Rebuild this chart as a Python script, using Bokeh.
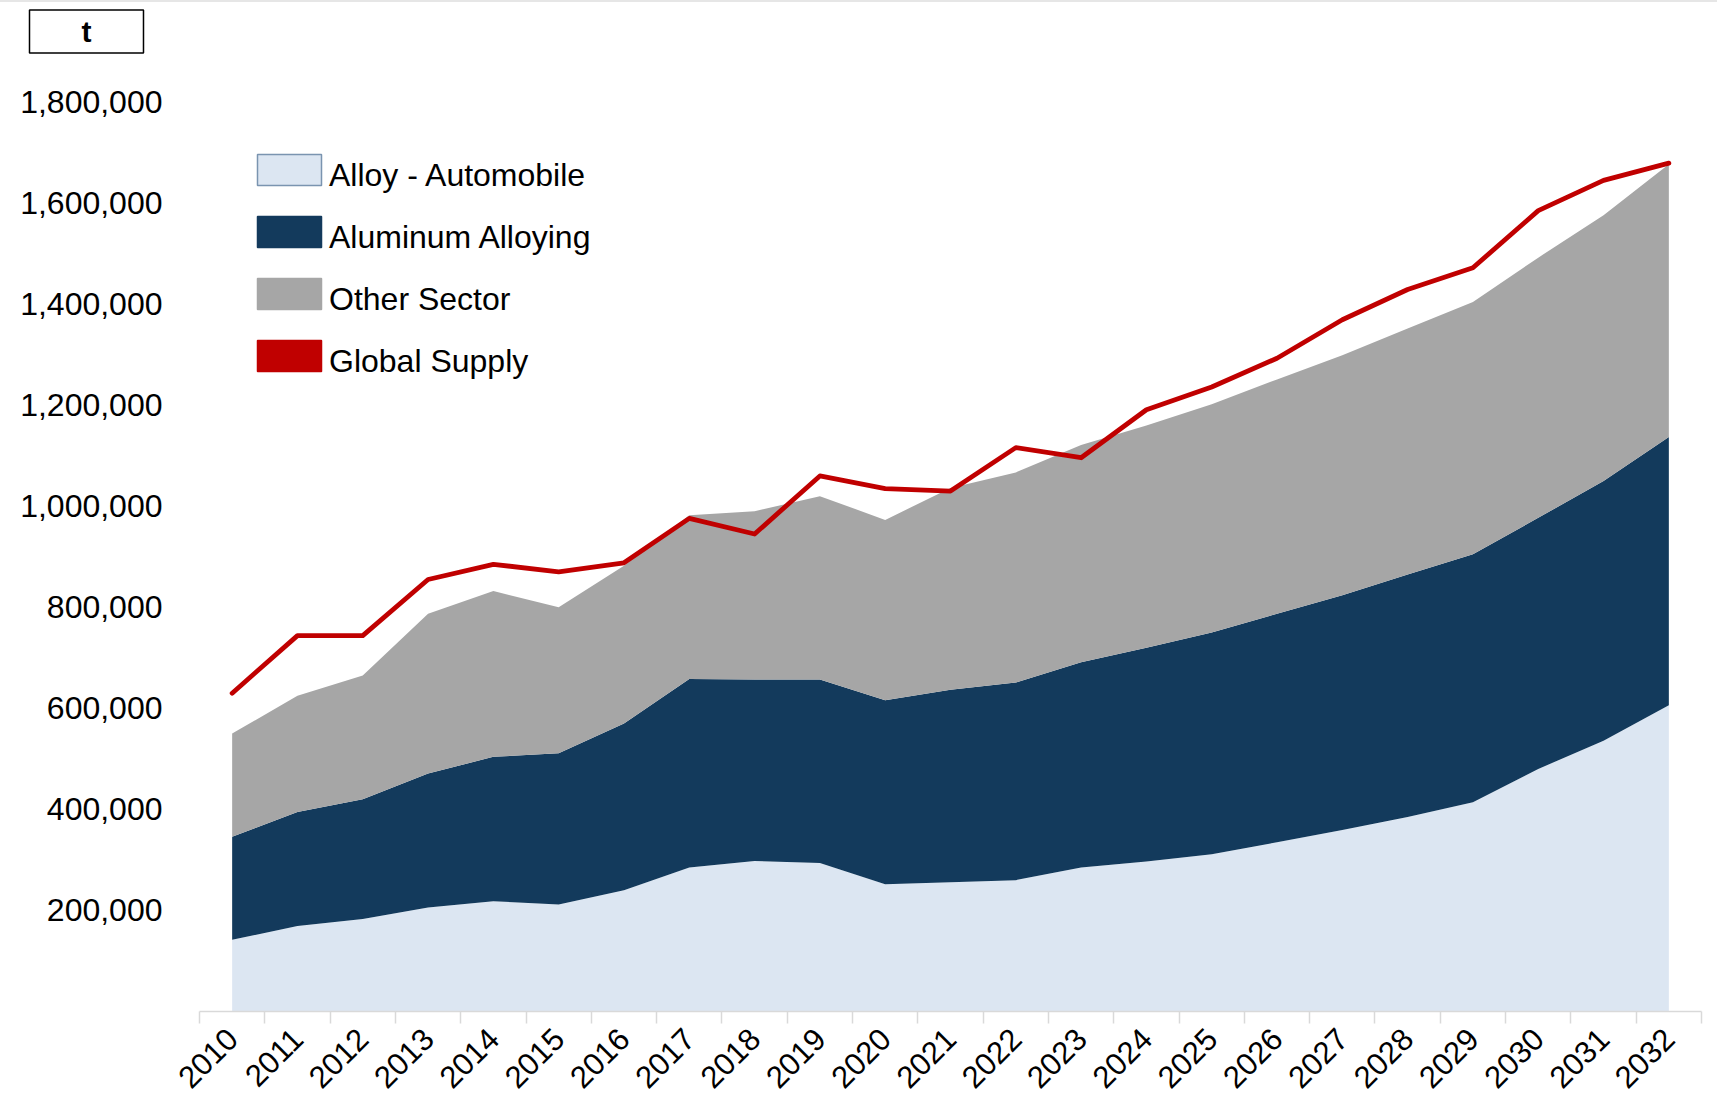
import math
from bokeh.plotting import figure
from bokeh.models import (ColumnDataSource, FixedTicker, NumeralTickFormatter,
                          Legend, LegendItem, Range1d)
from bokeh.embed import file_html
from bokeh.resources import INLINE

# ---------------- data (tonnes) ----------------
years = list(range(2010, 2033))
alloy_automobile = [142000, 169000, 183000, 206000, 218000, 212000, 240000, 285000,
                    298000, 294000, 252000, 256000, 260000, 285000, 297000, 311000,
                    335000, 359000, 385000, 414000, 480000, 536000, 606000]
aluminum_alloying = [204000, 226000, 237000, 265000, 286000, 299000, 330000, 373000,
                     359000, 363000, 364000, 381000, 391000, 406000, 423000, 439000,
                     452000, 465000, 480000, 491000, 497000, 514000, 531000]
other_sector = [204000, 230000, 245000, 316000, 328000, 289000, 312000, 324000,
                333000, 363000, 357000, 399000, 416000, 430000, 440000, 452000,
                464000, 475000, 487000, 499000, 515000, 526000, 540000]
global_supply = [630000, 744000, 744000, 855000, 885000, 870000, 888000, 976000,
                 945000, 1060000, 1035000, 1030000, 1116000, 1096000, 1191000, 1236000,
                 1293000, 1369000, 1429000, 1472000, 1585000, 1645000, 1679000]
y_ticks = [200000, 400000, 600000, 800000, 1000000, 1200000, 1400000, 1600000, 1800000]
series_names = ["Alloy - Automobile", "Aluminum Alloying", "Other Sector", "Global Supply"]
unit_label = "t"

FONT = "Liberation Sans"
C_ALLOY = "#dce6f2"
C_ALU = "#133a5c"
C_OTHER = "#a6a6a6"
C_RED = "#c00000"
C_AXIS = "#d9d9d9"

src = ColumnDataSource(dict(year=years, alloy=alloy_automobile,
                            aluminum=aluminum_alloying, other=other_sector,
                            supply=global_supply))

p = figure(frame_width=1502, frame_height=960,
           min_border_left=199, min_border_top=49, min_border_right=16, min_border_bottom=84,
           x_range=Range1d(2009.5, 2032.5), y_range=Range1d(0, 1900000),
           output_backend="svg", toolbar_location=None)
p.styles = {"border-top": "2px solid #e6e6e6"}
p.outline_line_color = None
p.grid.visible = False
p.background_fill_color = "white"
p.border_fill_color = "white"

p.varea_stack(["alloy", "aluminum", "other"], x="year",
              fill_color=[C_ALLOY, C_ALU, C_OTHER], source=src)
p.line("year", "supply", source=src, line_color=C_RED, line_width=4.8,
       line_cap="round", line_join="round")

# legend swatches: hidden degenerate quads built from the data columns
def swatch(fill, line, alpha=1.0):
    r = p.quad(left="year", right="year", top="alloy", bottom="alloy", source=src,
               fill_color=fill, line_color=line, line_width=1.5,
               fill_alpha=alpha, line_alpha=alpha)
    r.visible = False
    return r

sw = [swatch(C_ALLOY, "#7a94b0"), swatch(C_ALU, C_ALU),
      swatch(C_OTHER, C_OTHER), swatch(C_RED, C_RED)]
blank = swatch("white", "white", alpha=0.0)

common = dict(glyph_width=80, glyph_height=39, label_height=52, spacing=10,
              padding=0, margin=0, border_line_color=None, background_fill_alpha=0,
              label_standoff=0, label_text_font=FONT, label_text_font_size="32px",
              label_text_color="black")

# swatches
legend_sw = Legend(items=[LegendItem(label=" ", renderers=[r]) for r in sw],
                   location=(50, 630), **common)
# texts (slightly lower than the swatch centres, as in the original)
legend_tx = Legend(items=[LegendItem(label=n, renderers=[blank]) for n in series_names],
                   location=(50, 624), **common)
p.add_layout(legend_sw)
p.add_layout(legend_tx)

# x axis
xa = p.xaxis[0]
xa.ticker = FixedTicker(ticks=years, minor_ticks=[y - 0.5 for y in years] + [years[-1] + 0.5])
xa.major_tick_out = 0
xa.major_tick_in = 0
xa.minor_tick_out = 12
xa.minor_tick_in = 0
xa.minor_tick_line_color = C_AXIS
xa.minor_tick_line_width = 1.5
xa.axis_line_color = C_AXIS
xa.axis_line_width = 1.5
xa.major_label_orientation = math.pi / 4
xa.major_label_text_font = FONT
xa.major_label_text_font_size = "31px"
xa.major_label_text_color = "black"
xa.major_label_standoff = 10

# y axis
ya = p.yaxis[0]
ya.ticker = FixedTicker(ticks=y_ticks)
ya.formatter = NumeralTickFormatter(format="0,0")
ya.axis_line_color = None
ya.major_tick_line_color = None
ya.minor_tick_line_color = None
ya.major_tick_out = 0
ya.major_tick_in = 0
ya.minor_tick_out = 0
ya.major_label_standoff = 37
ya.major_label_text_font = FONT
ya.major_label_text_font_size = "32px"
ya.major_label_text_color = "black"

# unit box as the plot title
p.title.text = unit_label
p.title.align = "left"
p.title.offset = -170
p.title.standoff = -3
p.title.vertical_align = "bottom"
p.title.text_font = FONT
p.title.text_font_size = "30px"
p.title.text_font_style = "bold"
p.title.text_color = "black"
p.title.border_line_color = "black"
p.title.border_line_width = 1.5
p.title.background_fill_color = "white"
p.title.padding = (52, 5)

open("out.html", "w").write(file_html(p, INLINE))
